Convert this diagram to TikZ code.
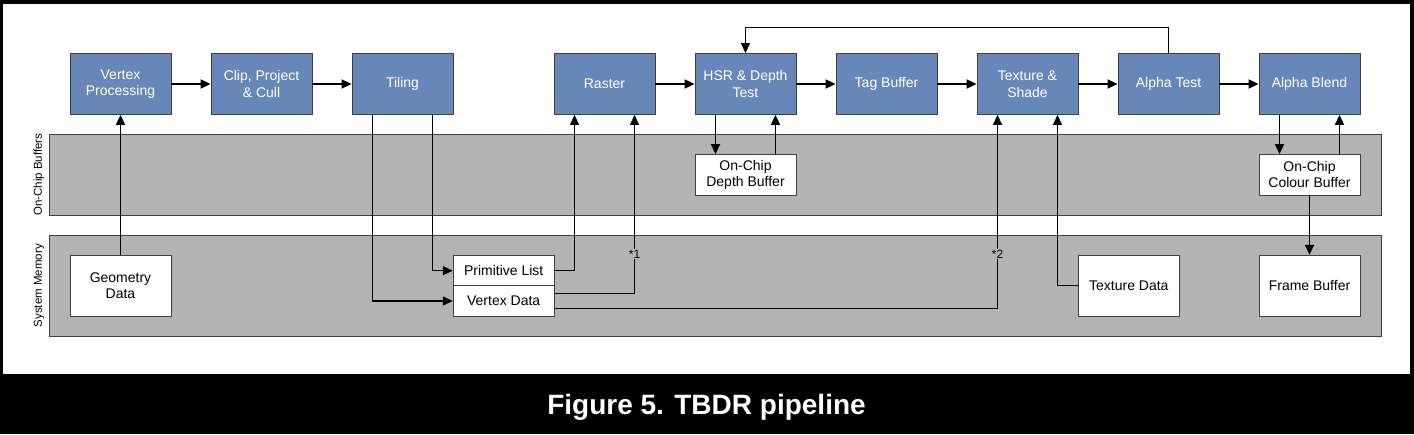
\documentclass[tikz,border=0pt]{standalone}
\usepackage{fontspec}
\setmainfont{Liberation Sans}
\usetikzlibrary{positioning,arrows.meta}

\definecolor{stageblue}{RGB}{103,135,184}
\definecolor{bandgray}{RGB}{179,179,179}
\definecolor{edgegray}{RGB}{64,64,64}

\begin{document}
\begin{tikzpicture}[x=1pt,y=-1pt,
  stage/.style={draw=edgegray,line width=0.8pt,fill=stageblue,text=white,align=center,
    minimum width=101pt,minimum height=61pt,inner sep=1pt,font=\fontsize{14}{16.5}\selectfont},
  buffer/.style={draw=edgegray,line width=0.8pt,fill=white,text=black,align=center,
    minimum width=101pt,minimum height=61pt,inner sep=1pt,font=\fontsize{14}{16.5}\selectfont},
  band/.style={draw=black!75,line width=0.8pt,fill=bandgray,minimum width=1332pt},
  lanelabel/.style={rotate=90,font=\fontsize{11.5}{13}\selectfont},
  note/.style={inner sep=1pt,font=\fontsize{12}{14}\selectfont},
  flow/.style={line width=1.8pt,-{Triangle[length=10pt,width=9pt]}},
  route/.style={line width=1.1pt},
  caption/.style={text=white,font=\fontsize{28}{32}\selectfont\bfseries}]
\useasboundingbox (0,0) rectangle (1414,434);
\fill[black] (0,0) rectangle (1414,434);
\fill[white] (3,4) rectangle (1410,374);

\node[band,minimum height=81pt] (onchip) at (715.5,174.7) {};
\node[band,minimum height=101pt] (sysmem) at (715.5,285.7) {};
\node[lanelabel] (onchiplbl) at (39,174.7) {On-Chip Buffers};
\node[lanelabel] (sysmemlbl) at (39,285.7) {System Memory};

\node[stage] (vp) at (120.5,84) {Vertex\\Processing};
\node[stage,right=39.2pt of vp] (cpc) {Clip, Project\\\& Cull};
\node[stage,right=39.2pt of cpc] (tiling) {Tiling};
\node[stage,right=100.2pt of tiling] (raster) {Raster};
\node[stage,right=39.2pt of raster] (hsr) {HSR \& Depth\\Test};
\node[stage,right=39.2pt of hsr] (tagbuf) {Tag Buffer};
\node[stage,right=39.2pt of tagbuf] (texshade) {Texture \&\\Shade};
\node[stage,right=39.2pt of texshade] (atest) {Alpha Test};
\node[stage,right=39.2pt of atest] (ablend) {Alpha Blend};

\node[buffer,minimum height=40.5pt] (depthbuf) at (hsr |- onchip) {On-Chip\\Depth Buffer};
\node[buffer,minimum height=40.5pt] (colourbuf) at (ablend |- onchip) {On-Chip\\Colour Buffer};
\node[buffer] (geom) at (vp |- sysmem) {Geometry\\Data};
\node[buffer,minimum height=30.7pt] (primlist) at (503.7,270.7) {Primitive List};
\node[buffer,minimum height=30.3pt] (vertdata) at (503.7,301) {Vertex Data};
\node[buffer] (texdata) at (1128.8,285.7) {Texture Data};
\node[buffer] (framebuf) at (ablend |- sysmem) {Frame Buffer};

\node[note] (n1) at ([xshift=30pt]raster.south |- 0,254) {*1};
\node[note] (n2) at ([xshift=-30pt]texshade.south |- 0,254) {*2};

\foreach \a/\b in {vp/cpc,cpc/tiling,raster/hsr,hsr/tagbuf,tagbuf/texshade,texshade/atest,atest/ablend}
  \draw[flow] (\a) -- (\b);
\draw[flow] (geom) -- (vp);
\draw[flow] ([xshift=-30pt]hsr.south) -- ([xshift=-30pt]depthbuf.north);
\draw[flow] ([xshift=30pt]depthbuf.north) -- ([xshift=30pt]hsr.south);
\draw[flow] ([xshift=-30pt]ablend.south) -- ([xshift=-30pt]colourbuf.north);
\draw[flow] ([xshift=30pt]colourbuf.north) -- ([xshift=30pt]ablend.south);
\draw[flow] (colourbuf) -- (framebuf);
\draw[route,-{Triangle[length=10pt,width=9pt]}] (atest.north) -- ++(0,-26) -| (hsr.north);

\draw[route,-{Triangle[length=10pt,width=9pt]}] ([xshift=-30pt]tiling.south) |- (vertdata.west);
\draw[route,-{Triangle[length=10pt,width=9pt]}] ([xshift=30pt]tiling.south) |- (primlist.west);
\draw[route,-{Triangle[length=10pt,width=9pt]}] (primlist.east) -| ([xshift=-30pt]raster.south);
\draw[route] ([yshift=7.7pt]vertdata.east) -| (n1.south);
\draw[route,-{Triangle[length=10pt,width=9pt]}] (n1.north) -- ([xshift=30pt]raster.south);
\draw[route] ([yshift=-7.3pt]vertdata.east) -| (n2.south);
\draw[route,-{Triangle[length=10pt,width=9pt]}] (n2.north) -- ([xshift=-30pt]texshade.south);
\draw[route,-{Triangle[length=10pt,width=9pt]}] (texdata.west) -| ([xshift=30pt]texshade.south);

\node[caption,anchor=base] (cap) at (706.5,414) {Figure 5. TBDR pipeline};
\end{tikzpicture}
\end{document}
